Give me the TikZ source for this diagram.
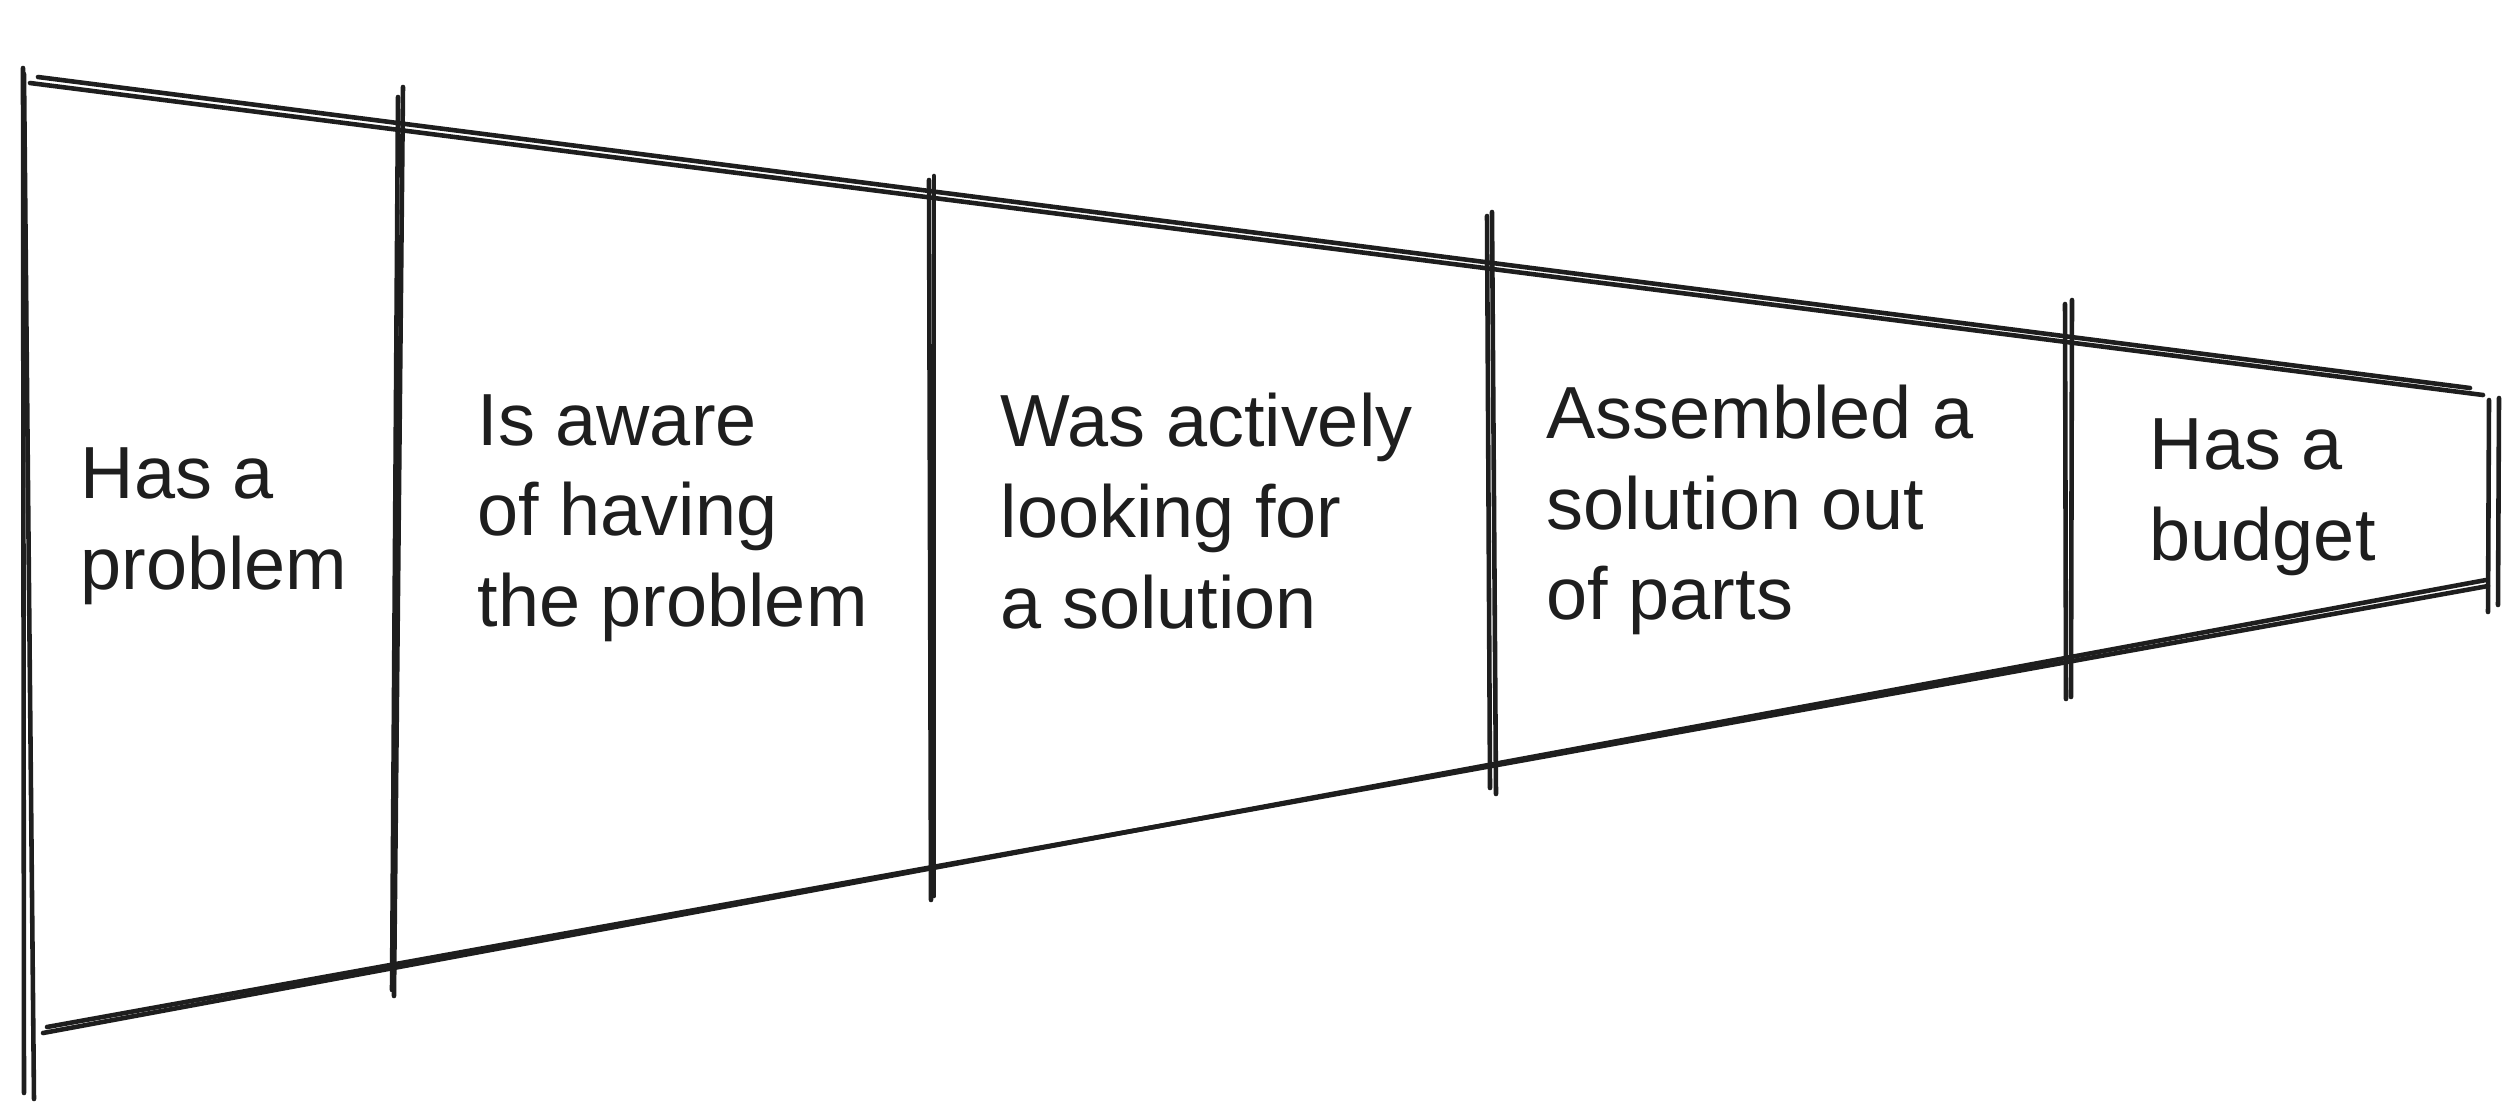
\documentclass[tikz,border=0pt]{standalone}
\usepackage{fontspec}
\setmainfont{Liberation Sans}
\usepackage{tikz}
\usetikzlibrary{positioning}

\definecolor{ink}{HTML}{1E1E1E}

\begin{document}
\begin{tikzpicture}[
  x=0.01cm, y=-0.01cm,
  stroke/.style={draw=ink, line width=1.3pt, line cap=round},
  label/.style={anchor=west, align=left, inner sep=0pt, text=ink,
    font=\fontsize{21}{25.8}\selectfont}
]
\useasboundingbox (0,0) rectangle (2520,1117);
% funnel edges, drawn twice for the sketchy look
\draw[stroke] (30,83) -- (2483,395);
\draw[stroke] (38,77) -- (2470,388);
\draw[stroke] (43,1033) -- (2486,580);
\draw[stroke] (47,1027) -- (2488,586);
% stage dividers
\draw[stroke] (23,68) -- (24,1093);
\draw[stroke] (24,74) -- (34,1099);
\draw[stroke] (398,97) -- (392,990);
\draw[stroke] (403,87) -- (394,996);
\draw[stroke] (929,180) -- (931,900);
\draw[stroke] (934,176) -- (934,896);
\draw[stroke] (1487,216) -- (1490,788);
\draw[stroke] (1492,212) -- (1496,794);
\draw[stroke] (2065,304) -- (2066,699);
\draw[stroke] (2072,300) -- (2071,697);
\draw[stroke] (2489,400) -- (2488,612);
\draw[stroke] (2499,398) -- (2498,605);
% stage labels
\node[label] (problem) at (80,526) {Has a\\problem};
\node[label] (aware) at (477,518) {Is aware\\of having\\the problem};
\node[label] (looking) at (1000,511) {Was actively\\looking for\\a solution};
\node[label] (parts) at (1546,510) {Assembled a\\solution out\\of parts};
\node[label] (budget) at (2149,497) {Has a\\budget};
\end{tikzpicture}
\end{document}
